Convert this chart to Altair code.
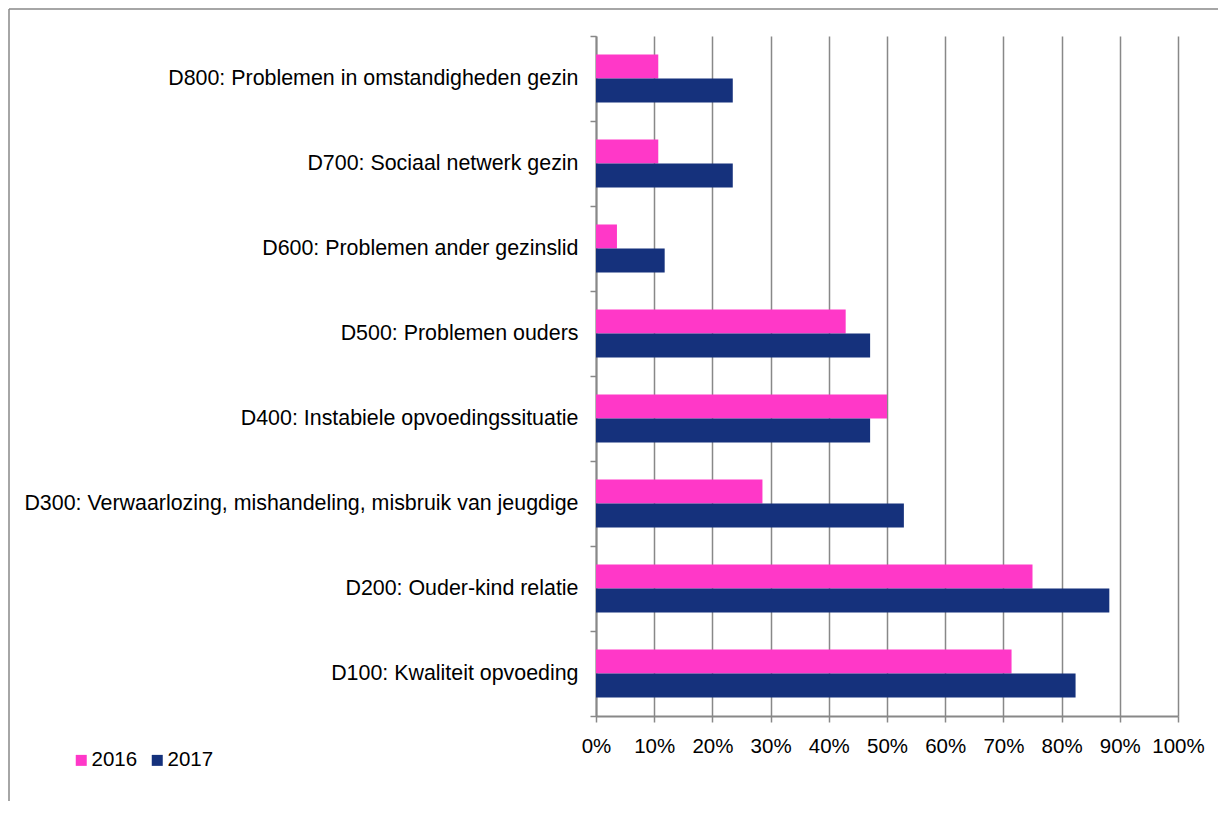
import altair as alt
import pandas as pd

categories = [
    "D800: Problemen in omstandigheden gezin",
    "D700: Sociaal netwerk gezin",
    "D600: Problemen ander gezinslid",
    "D500: Problemen ouders",
    "D400: Instabiele opvoedingssituatie",
    "D300: Verwaarlozing, mishandeling, misbruik van jeugdige",
    "D200: Ouder-kind relatie",
    "D100: Kwaliteit opvoeding",
]
years = ["2016", "2017"]
v2016 = [0.107, 0.107, 0.036, 0.429, 0.500, 0.286, 0.750, 0.714]
v2017 = [0.235, 0.235, 0.118, 0.471, 0.471, 0.529, 0.882, 0.824]
colors = ["#FF38C8", "#15317C"]
x_ticks = [0, 0.1, 0.2, 0.3, 0.4, 0.5, 0.6, 0.7, 0.8, 0.9, 1.0]

rows = []
for c, a, b in zip(categories, v2016, v2017):
    rows.append({"categorie": c, "jaar": "2016", "waarde": a})
    rows.append({"categorie": c, "jaar": "2017", "waarde": b})
df = pd.DataFrame(rows)

GRAY = "#888888"
FS = 20.5

bars = alt.Chart(df).mark_bar().encode(
    x=alt.X(
        "waarde:Q",
        scale=alt.Scale(domain=[0, 1], nice=False),
        axis=alt.Axis(
            values=x_ticks, format=".0%", title=None, grid=True,
            gridColor=GRAY, gridWidth=1.5, gridOpacity=1,
            domainColor=GRAY, domainWidth=2, tickColor=GRAY, tickWidth=1.5,
            tickSize=6, labelPadding=14, labelFontSize=FS, labelColor="black",
            labelOverlap=False, labelFlush=False,
        ),
    ),
    y=alt.Y(
        "categorie:N", sort=categories,
        scale=alt.Scale(paddingInner=0, paddingOuter=0),
        axis=alt.Axis(
            title=None, tickBand="extent", labelLimit=700, labelFontSize=21.4,
            labelColor="black", labelPadding=12, tickSize=6, tickColor=GRAY,
            tickWidth=1.5, domainColor=GRAY, domainWidth=2, grid=False,
        ),
    ),
    yOffset=alt.YOffset(
        "jaar:N", sort=years,
        scale=alt.Scale(paddingInner=0, paddingOuter=0.77),
    ),
    color=alt.Color(
        "jaar:N",
        scale=alt.Scale(domain=years, range=colors),
        legend=alt.Legend(
            title=None, orient="none", legendX=-525, legendY=714,
            direction="horizontal", symbolType="square", symbolSize=121,
            symbolStrokeWidth=0, labelFontSize=FS, labelColor="black",
            labelOffset=0, columnPadding=9, padding=0,
        ),
    ),
)

frame = pd.DataFrame({"k": [0]})
top_line = alt.Chart(frame).mark_rule(color=GRAY, strokeWidth=1.5).encode(
    x=alt.value(-587), x2=alt.value(622), y=alt.value(-27)
)
left_line = alt.Chart(frame).mark_rule(color=GRAY, strokeWidth=1.5).encode(
    x=alt.value(-587), y=alt.value(-27), y2=alt.value(765)
)

chart = (
    alt.layer(bars, top_line, left_line)
    .properties(width=582, height=680, padding=0)
    .configure(font="Liberation Sans")
    .configure_view(strokeWidth=0)
)

chart.save("out.html", embed_options={"renderer": "svg", "actions": False})
